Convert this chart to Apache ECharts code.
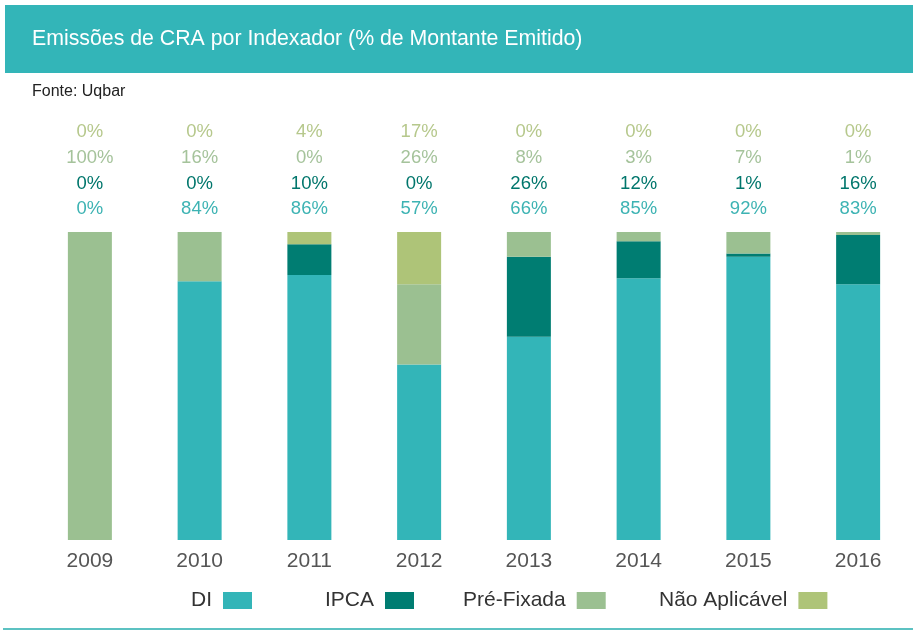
<!DOCTYPE html>
<html><head><meta charset="utf-8">
<script src="https://cdn.jsdelivr.net/npm/echarts@6/dist/echarts.min.js"></script>
<style>html,body{margin:0;padding:0;background:#fff}#c{width:919px;height:638px}</style>
</head><body><div id="c"></div>
<script>
const years = ['2009','2010','2011','2012','2013','2014','2015','2016'];
const di = [0, 84, 86, 57, 66, 85, 92, 83];
const ipca = [0, 0, 10, 0, 26, 12, 1, 16];
const preFixada = [100, 16, 0, 26, 8, 3, 7, 1];
const naoAplicavel = [0, 0, 4, 17, 0, 0, 0, 0];
const seriesNames = ['DI', 'IPCA', 'Pré-Fixada', 'Não Aplicável'];
const colors = ['#33b5b8', '#007d72', '#9bc091', '#aec478'];
const labelColors = ['#3db3b3', '#00766c', '#a5c39b', '#b6c88c'];

const chart = echarts.init(document.getElementById('c'));
const font = '"Liberation Sans", Arial, sans-serif';
const legendLefts = [186, 320, 458, 654];
chart.setOption({
  animation: false,
  textStyle: { fontFamily: font },
  graphic: [
    { type: 'rect', shape: { x: 5, y: 5, width: 908, height: 68 }, style: { fill: '#33b5b8' } },
    { type: 'text', left: 32, top: 29, style: { text: 'Emissões de CRA por Indexador (% de Montante Emitido)', fill: '#fff', font: '21.3px ' + font } },
    { type: 'text', left: 32, top: 84, style: { text: 'Fonte: Uqbar', fill: '#222', font: '16px ' + font } },
    { type: 'rect', shape: { x: 3, y: 628, width: 910, height: 2 }, style: { fill: '#5cc2c2' } }
  ],
  grid: { left: 35, right: 6, top: 232, bottom: 98 },
  xAxis: [
    { type: 'category', data: years, axisLine: { show: false }, axisTick: { show: false },
      axisLabel: { color: '#555', fontSize: 21, margin: 11 } },
    { type: 'category', data: years, position: 'top', axisLine: { show: false }, axisTick: { show: false },
      axisLabel: { margin: 10, formatter: function (v, i) {
        return '{d|' + naoAplicavel[i] + '%}\n{c|' + preFixada[i] + '%}\n{b|' + ipca[i] + '%}\n{a|' + di[i] + '%}';
      }, rich: {
        a: { color: labelColors[0], fontSize: 18.5, lineHeight: 25.7 },
        b: { color: labelColors[1], fontSize: 18.5, lineHeight: 25.7 },
        c: { color: labelColors[2], fontSize: 18.5, lineHeight: 25.7 },
        d: { color: labelColors[3], fontSize: 18.5, lineHeight: 25.7 }
      } } }
  ],
  yAxis: { type: 'value', min: 0, max: 100, show: false },
  legend: seriesNames.map((n, k) => ({
    top: 585, left: legendLefts[k], align: 'right', itemWidth: 29, itemHeight: 17,
    icon: 'rect', textStyle: { fontSize: 21, color: '#333', padding: [0, 6, 0, 0] },
    data: [n]
  })),
  series: [di, ipca, preFixada, naoAplicavel].map((d, k) => ({
    name: seriesNames[k], type: 'bar', stack: 's', data: d, barWidth: 44,
    itemStyle: { color: colors[k] }
  }))
});
</script></body></html>
